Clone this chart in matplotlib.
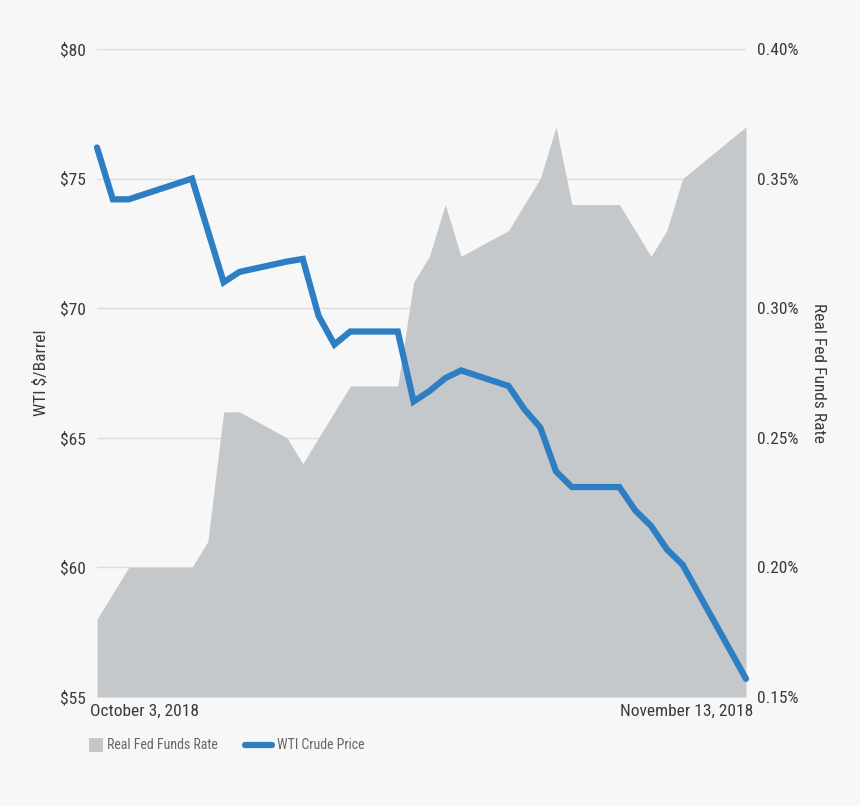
import matplotlib
matplotlib.use('agg')
import matplotlib.pyplot as plt
import matplotlib.transforms as mtransforms
from matplotlib.patches import Rectangle
from matplotlib.lines import Line2D

plt.rcParams['font.family'] = ['Roboto Condensed', 'Liberation Sans Narrow', 'Archivo Narrow', 'DejaVu Sans']

# days since October 3, 2018
rate_days = [0, 1, 2, 6, 7, 8, 9, 12, 13, 16, 19, 20, 21, 22, 23, 26, 27, 28, 29, 30, 33, 35, 36, 37, 41]
rate_vals = [0.18, 0.19, 0.20, 0.20, 0.21, 0.26, 0.26, 0.25, 0.24, 0.27, 0.27, 0.31, 0.32, 0.34, 0.32,
             0.33, 0.34, 0.35, 0.37, 0.34, 0.34, 0.32, 0.33, 0.35, 0.37]

wti_days = [0, 1, 2, 6, 8, 9, 12, 13, 14, 15, 16, 19, 20, 21, 22, 23, 26, 27, 28, 29, 30, 33, 34, 35, 36, 37, 41]
wti_vals = [76.2, 74.2, 74.2, 75.0, 71.0, 71.4, 71.8, 71.9, 69.7, 68.6, 69.1, 69.1, 66.4, 66.8, 67.3, 67.6,
            67.0, 66.1, 65.4, 63.7, 63.1, 63.1, 62.2, 61.6, 60.7, 60.1, 55.7]

left_ticks = [55, 60, 65, 70, 75, 80]
right_ticks = [0.15, 0.20, 0.25, 0.30, 0.35, 0.40]
x_labels = ['October 3, 2018', 'November 13, 2018']

bg = '#f7f7f7'
grey = '#c5c8cb'
blue = '#2e7ec3'
txt = '#3a3a3a'
fs = 12.5

fig = plt.figure(figsize=(8.6, 8.06), dpi=100, facecolor=bg)
ax2 = fig.add_axes([97 / 860, 1 - 697 / 806, 649 / 860, 648 / 806])
ax = ax2.twinx()
ax2.set_facecolor(bg)
ax.set_zorder(ax2.get_zorder() + 1)
ax.patch.set_visible(False)

# right axis: rate area + grid
ax2.fill_between(rate_days, 0.15, rate_vals, color=grey, lw=0, zorder=2)
ax2.set_ylim(0.15, 0.40)
ax2.set_yticks(right_ticks)
ax2.set_yticklabels(['%.2f%%' % v for v in right_ticks])
ax2.yaxis.tick_right()
ax2.yaxis.set_label_position('right')
ax2.grid(axis='y', color='#dcdcdc', lw=1, zorder=0)
ax2.set_axisbelow(True)
ax2.set_ylabel('Real Fed Funds Rate', fontsize=fs, color=txt, rotation=270, labelpad=20)

# left axis: WTI line
ax.plot(wti_days, wti_vals, color=blue, lw=4.5, solid_joinstyle='miter',
        solid_capstyle='round', zorder=3, clip_on=False)
ax.set_ylim(55, 80)
ax.set_yticks(left_ticks)
ax.set_yticklabels(['$%d' % v for v in left_ticks])
ax.yaxis.tick_left()
ax.yaxis.set_label_position('left')
ax.set_ylabel('WTI $/Barrel', fontsize=fs, color=txt, labelpad=8)

ax2.set_xlim(0, 41)
ax2.set_xticks([0, 41])
ax2.set_xticklabels(x_labels)

for a in (ax, ax2):
    for s in a.spines.values():
        s.set_visible(False)
    a.tick_params(length=0, labelsize=fs, colors=txt, pad=8)
ax2.tick_params(axis='x', pad=5)

lab0, lab1 = ax2.get_xticklabels()
lab0.set_ha('left')
lab1.set_ha('right')
lab0.set_transform(lab0.get_transform() + mtransforms.ScaledTranslation(-7 / 100, 0, fig.dpi_scale_trans))
lab1.set_transform(lab1.get_transform() + mtransforms.ScaledTranslation(7 / 100, 0, fig.dpi_scale_trans))

# legend drawn by hand at the bottom
fig.patches.append(Rectangle((89 / 860, 1 - 752 / 806), 14 / 860, 14 / 806,
                             transform=fig.transFigure, color=grey, lw=0))
fig.text(107 / 860, 1 - 745 / 806, 'Real Fed Funds Rate', fontsize=10, color='#666666', va='center')
fig.lines.append(Line2D([245 / 860, 272 / 860], [1 - 745 / 806, 1 - 745 / 806],
                        transform=fig.transFigure, color=blue, lw=4.5, solid_capstyle='round'))
fig.text(277 / 860, 1 - 745 / 806, 'WTI Crude Price', fontsize=10, color='#666666', va='center')

fig.savefig('out.png', dpi=100, facecolor=bg)
